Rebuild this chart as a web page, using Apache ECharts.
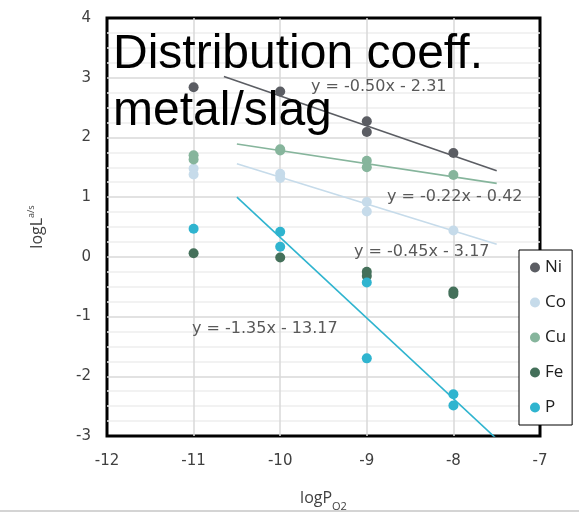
<!DOCTYPE html>
<html>
<head>
<meta charset="utf-8">
<script src="https://cdn.jsdelivr.net/npm/echarts@6/dist/echarts.min.js"></script>
<style>
  html, body { margin: 0; padding: 0; background: #fff; }
  #chart { width: 579px; height: 513px; }
</style>
</head>
<body>
<div id="chart"></div>
<script>
// measured points [logPO2, logL]
const niData = [[-11, 2.84], [-10, 2.77], [-9, 2.27], [-9, 2.09], [-8, 1.74]];
const coData = [[-11, 1.48], [-11, 1.38], [-10, 1.39], [-10, 1.32], [-9, 0.92], [-9, 0.76], [-8, 0.44]];
const cuData = [[-11, 1.70], [-11, 1.63], [-10, 1.80], [-10, 1.78], [-9, 1.61], [-9, 1.50], [-8, 1.37]];
const feData = [[-11, 0.06], [-10, -0.01], [-9, -0.25], [-9, -0.32], [-8, -0.58], [-8, -0.62]];
const pData = [[-11, 0.47], [-10, 0.42], [-10, 0.17], [-9, -0.43], [-9, -1.70], [-8, -2.30], [-8, -2.49]];

// trend line end points
const niTrend = [[-10.65, 3.02], [-7.5, 1.44]];
const cuTrend = [[-10.5, 1.89], [-7.5, 1.23]];
const coTrend = [[-10.5, 1.56], [-7.5, 0.21]];
const pTrend = [[-10.5, 1.0], [-7.5, -3.05]];

const seriesNames = ["Ni", "Co", "Cu", "Fe", "P"];
const colors = ["#5b5d63", "#c6dbea", "#86b59c", "#44705a", "#2fb4cf"];

const xTicks = [-12, -7];
const yTicks = [-3, 4];

const equations = ["y = -0.50x - 2.31", "y = -0.22x - 0.42", "y = -0.45x - 3.17", "y = -1.35x - 13.17"];

const font = "'Open Sans', 'Liberation Sans', sans-serif";
const wideFont = "'DejaVu Sans', sans-serif";

const chart = echarts.init(document.getElementById("chart"));

function scatter(name, data, color) {
  return {
    name: name,
    type: "scatter",
    data: data,
    symbolSize: 10,
    itemStyle: { color: color, opacity: 1 },
    z: 5
  };
}
function trend(data, color) {
  return {
    type: "line",
    data: data,
    symbol: "none",
    lineStyle: { color: color, width: 1.6 },
    clip: true,
    silent: true,
    z: 3
  };
}

const option = {
  animation: false,
  backgroundColor: "#fff",
  grid: {
    left: 107, top: 18, width: 433, height: 418,
    outerBoundsMode: "none",
    containLabel: false,
    show: true, borderColor: "#000", borderWidth: 3, backgroundColor: "transparent"
  },
  xAxis: {
    type: "value",
    min: xTicks[0], max: xTicks[1], interval: 1,
    name: "{n|logP}{s|O2}",
    nameLocation: "middle",
    nameGap: 54,
    nameTextStyle: {
      rich: {
        n: { fontSize: 16, fontFamily: font, color: "#404040", verticalAlign: "top", lineHeight: 22 },
        s: { fontSize: 11, fontFamily: font, color: "#404040", verticalAlign: "bottom", lineHeight: 22 }
      }
    },
    axisLine: { show: false },
    axisTick: { show: false },
    axisLabel: { margin: 18, fontSize: 15, fontFamily: wideFont, color: "#404040" },
    splitLine: { show: true, showMinLine: false, showMaxLine: false, lineStyle: { color: "#d9d9d9", width: 1.5 } }
  },
  yAxis: {
    type: "value",
    min: yTicks[0], max: yTicks[1], interval: 1,
    name: "{n|logL}{s|a/s}",
    nameLocation: "middle",
    nameGap: 62,
    nameTextStyle: {
      rich: {
        n: { fontSize: 16, fontFamily: font, color: "#404040", verticalAlign: "bottom", lineHeight: 18 },
        s: { fontSize: 9, fontFamily: font, color: "#404040", verticalAlign: "top", lineHeight: 18 }
      }
    },
    axisLine: { show: false },
    axisTick: { show: false },
    axisLabel: { margin: 16, fontSize: 15, fontFamily: wideFont, color: "#404040" },
    splitLine: { show: true, showMinLine: false, showMaxLine: false, lineStyle: { color: "#d9d9d9", width: 1.5 } },
    minorTick: { show: false, splitNumber: 4 },
    minorSplitLine: { show: true, lineStyle: { color: "#eeeeee", width: 1.5 } }
  },
  legend: {
    data: seriesNames,
    orient: "vertical",
    left: 519, top: 250,
    backgroundColor: "#fff",
    borderColor: "#000", borderWidth: 1,
    padding: [9, 6, 9, 11],
    itemGap: 18,
    itemWidth: 10, itemHeight: 10,
    itemTextGap: 2,
    icon: "circle",
    textStyle: { fontSize: 17, fontFamily: font, color: "#202020", padding: [0, 0, 0, 0] },
    z: 10
  },
  graphic: [
    { type: "text", z: 20, style: { x: 113, y: 55, text: "Distribution coeff.", font: "48px 'Liberation Sans', Arial, sans-serif", fill: "#000", verticalAlign: "middle" } },
    { type: "text", z: 20, style: { x: 113, y: 112, text: "metal/slag", font: "48px 'Liberation Sans', Arial, sans-serif", fill: "#000", verticalAlign: "middle" } },
    { type: "text", z: 8, style: { x: 311, y: 87, text: equations[0], font: "16px " + wideFont, fill: "#595959", verticalAlign: "middle" } },
    { type: "text", z: 8, style: { x: 387, y: 197, text: equations[1], font: "16px " + wideFont, fill: "#595959", verticalAlign: "middle" } },
    { type: "text", z: 8, style: { x: 354, y: 252, text: equations[2], font: "16px " + wideFont, fill: "#595959", verticalAlign: "middle" } },
    { type: "text", z: 8, style: { x: 192, y: 329, text: equations[3], font: "16px " + wideFont, fill: "#595959", verticalAlign: "middle" } },
    { type: "line", z: 1, shape: { x1: 0, y1: 511, x2: 579, y2: 511 }, style: { stroke: "#d4d4d4", lineWidth: 2 } }
  ],
  series: [
    trend(niTrend, colors[0]),
    trend(coTrend, colors[1]),
    trend(cuTrend, colors[2]),
    trend(pTrend, colors[4]),
    scatter(seriesNames[0], niData, colors[0]),
    scatter(seriesNames[1], coData, colors[1]),
    scatter(seriesNames[2], cuData, colors[2]),
    scatter(seriesNames[3], feData, colors[3]),
    scatter(seriesNames[4], pData, colors[4])
  ]
};

chart.setOption(option);
</script>
</body>
</html>
